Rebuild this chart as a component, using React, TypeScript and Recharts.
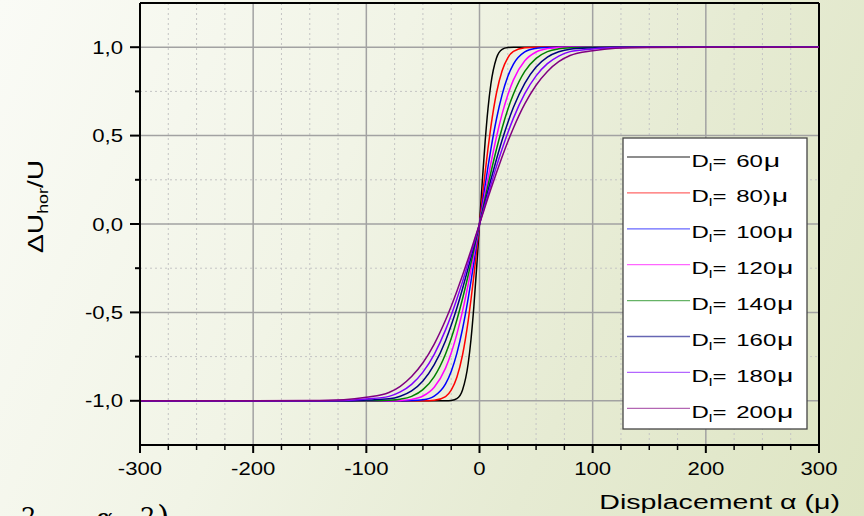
import React from 'react';
import { LineChart, Line, XAxis, YAxis, ReferenceLine, Legend } from 'recharts';

const xValues = [-300, -200, -150, -120, -100, -80, -70, -60, -50, -40, -30, -25, -20, -15, -10, -7.5, -5, -2.5, 0, 2.5, 5, 7.5, 10, 15, 20, 25, 30, 40, 50, 60, 70, 80, 100, 120, 150, 200, 300];

const d60 = [-1, -1, -1, -1, -1, -1, -1, -1, -1, -1, -1, -0.998, -0.988, -0.939, -0.789, -0.652, -0.468, -0.245, 0, 0.245, 0.468, 0.652, 0.789, 0.939, 0.988, 0.998, 1, 1, 1, 1, 1, 1, 1, 1, 1, 1, 1];
const d80 = [-1, -1, -1, -1, -1, -1, -1, -1, -1, -0.997, -0.976, -0.94, -0.867, -0.741, -0.548, -0.427, -0.293, -0.149, 0, 0.149, 0.293, 0.427, 0.548, 0.741, 0.867, 0.94, 0.976, 0.997, 1, 1, 1, 1, 1, 1, 1, 1, 1];
const d100 = [-1, -1, -1, -1, -1, -1, -1, -0.999, -0.994, -0.973, -0.904, -0.834, -0.732, -0.594, -0.421, -0.323, -0.218, -0.11, 0, 0.11, 0.218, 0.323, 0.421, 0.594, 0.732, 0.834, 0.904, 0.973, 0.994, 0.999, 1, 1, 1, 1, 1, 1, 1];
const d120 = [-1, -1, -1, -1, -1, -1, -0.998, -0.992, -0.973, -0.923, -0.815, -0.73, -0.623, -0.493, -0.341, -0.26, -0.175, -0.088, 0, 0.088, 0.175, 0.26, 0.341, 0.493, 0.623, 0.73, 0.815, 0.923, 0.973, 0.992, 0.998, 1, 1, 1, 1, 1, 1];
const d140 = [-1, -1, -1, -1, -1, -0.997, -0.991, -0.975, -0.937, -0.863, -0.735, -0.648, -0.543, -0.423, -0.29, -0.22, -0.148, -0.074, 0, 0.074, 0.148, 0.22, 0.29, 0.423, 0.543, 0.648, 0.735, 0.863, 0.937, 0.975, 0.991, 0.997, 1, 1, 1, 1, 1];
const d160 = [-1, -1, -1, -1, -0.996, -0.989, -0.974, -0.944, -0.888, -0.796, -0.66, -0.573, -0.475, -0.366, -0.249, -0.188, -0.126, -0.063, 0, 0.063, 0.126, 0.188, 0.249, 0.366, 0.475, 0.573, 0.66, 0.796, 0.888, 0.944, 0.974, 0.989, 0.996, 1, 1, 1, 1];
const d180 = [-1, -1, -1, -0.998, -0.99, -0.975, -0.95, -0.907, -0.838, -0.737, -0.599, -0.516, -0.424, -0.326, -0.22, -0.166, -0.111, -0.056, 0, 0.056, 0.111, 0.166, 0.22, 0.326, 0.424, 0.516, 0.599, 0.737, 0.838, 0.907, 0.95, 0.975, 0.99, 0.998, 1, 1, 1];
const d200 = [-1, -1, -0.999, -0.994, -0.98, -0.953, -0.918, -0.863, -0.785, -0.679, -0.543, -0.465, -0.38, -0.29, -0.196, -0.148, -0.099, -0.049, 0, 0.049, 0.099, 0.148, 0.196, 0.29, 0.38, 0.465, 0.543, 0.679, 0.785, 0.863, 0.918, 0.953, 0.98, 0.994, 0.999, 1, 1];

const seriesKeys = ['d60', 'd80', 'd100', 'd120', 'd140', 'd160', 'd180', 'd200'];
const seriesValues = [d60, d80, d100, d120, d140, d160, d180, d200];
const seriesNumbers = ['60', '80)', '100', '120', '140', '160', '180', '200'];
const seriesUnit = 'μ';
const seriesColors = ['#000000', '#ff0000', '#0000ff', '#ff00ff', '#008000', '#000080', '#8000ff', '#800080'];

const xTicks = [-300, -275, -250, -225, -200, -175, -150, -125, -100, -75, -50, -25, 0, 25, 50, 75, 100, 125, 150, 175, 200, 225, 250, 275, 300];
const yTicks = [-1, -0.75, -0.5, -0.25, 0, 0.25, 0.5, 0.75, 1];
const xMajorGrid = [-200, -100, 0, 100, 200];
const xMinorGrid = [-275, -250, -225, -175, -150, -125, -75, -50, -25, 25, 50, 75, 125, 150, 175, 225, 250, 275];
const yMajorGrid = [-1, -0.5, 0, 0.5, 1];
const yMinorGrid = [-0.75, -0.25, 0.25, 0.75];

const data = xValues.map((x, i) => {
  const row: any = { x };
  seriesKeys.forEach((k, j) => { row[k] = seriesValues[j][i]; });
  return row;
});

const FONT = '"Liberation Sans", Arial, sans-serif';

const XTick = (props: any) => {
  const { x, y, payload } = props;
  const v = payload.value;
  const major = Math.abs(v % 100) === 0;
  return (
    <g>
      <line x1={x} x2={x} y1={y} y2={y + (major ? 8 : 5)} stroke="#000" strokeWidth={major ? 2 : 1.5} />
      {major && (
        <text transform={`translate(${x},${y + 30}) scale(1.23,1)`} textAnchor="middle" fontFamily={FONT} fontSize={18} fill="#000">
          {String(v)}
        </text>
      )}
    </g>
  );
};

const YTick = (props: any) => {
  const { x, y, payload } = props;
  const v = payload.value;
  const major = Math.abs((v * 2) % 1) === 0;
  return (
    <g>
      <line x1={x - (major ? 10 : 5)} x2={x} y1={y} y2={y} stroke="#000" strokeWidth={2} />
      {major && (
        <text transform={`translate(${x - 17},${y + 6.5}) scale(1.23,1)`} textAnchor="end" fontFamily={FONT} fontSize={18} fill="#000">
          {v.toFixed(1).replace('.', ',')}
        </text>
      )}
    </g>
  );
};

const XTitle = (props: any) => {
  const vb = props.viewBox || { x: 140, y: 445, width: 679, height: 30 };
  return (
    <g>
      <text transform={`translate(${vb.x + vb.width + 21},${vb.y + 64}) scale(1.36,1)`} textAnchor="end" fontFamily={FONT} fontSize={21} fill="#000">
        Displacement α (μ)
      </text>
      <g fontFamily='"DejaVu Serif", serif' fill="#000">
        <text x={21} y={525} fontSize={24}>2</text>
        <text x={96} y={527} fontSize={26}>α</text>
        <text x={140} y={525} fontSize={24}>2</text>
        <text x={157} y={528} fontSize={32}>)</text>
      </g>
    </g>
  );
};

const YTitle = () => (
  <text transform="translate(43,253) rotate(-90) scale(1.28,1)" textAnchor="start" fontFamily={FONT} fontSize={22} fill="#000">
    ΔU<tspan fontSize={14} dy={5}>hor</tspan><tspan dy={-5}>/U</tspan>
  </text>
);

const LegendBox = () => (
  <svg width={187} height={294} style={{ display: 'block' }}>
    <rect x={1} y={1} width={184} height={291} fill="#ffffff" stroke="#444" strokeWidth={1.3} />
    {seriesNumbers.map((num, i) => {
      const cy = 20 + i * 35.9;
      return (
        <g key={num}>
          <line x1={5} x2={68} y1={cy} y2={cy} stroke={seriesColors[i]} strokeWidth={1.3} strokeOpacity={0.6} />
          <text transform={`translate(69.5,${cy + 9.5}) scale(1.5,1)`} fontFamily={FONT} fontSize={16} fill="#000">
            D<tspan fontSize={11} dy={4}>l</tspan>
            <tspan dy={-4}>=</tspan>
            <tspan dx={6.5}>{num}</tspan>
            <tspan dx={0.5} fontSize={19}>{seriesUnit}</tspan>
          </text>
        </g>
      );
    })}
  </svg>
);

export default function App() {
  return (
    <div
      style={{
        position: 'absolute',
        left: 0,
        top: 0,
        width: 864,
        height: 516,
        overflow: 'hidden',
        background: 'linear-gradient(115deg, #fafbf6 0%, #f1f4e6 38%, #e6ebd3 68%, #dee5c3 100%)',
      }}
    >
      <LineChart width={864} height={516} data={data} margin={{ top: 3, right: 45, bottom: 41, left: 40 }}>
        {xMinorGrid.map((v) => (
          <ReferenceLine key={'xm' + v} x={v} stroke="#c4c4c4" strokeDasharray="2 3" strokeWidth={1} />
        ))}
        {yMinorGrid.map((v) => (
          <ReferenceLine key={'ym' + v} y={v} stroke="#c4c4c4" strokeDasharray="2 3" strokeWidth={1} />
        ))}
        {xMajorGrid.map((v) => (
          <ReferenceLine key={'xM' + v} x={v} stroke="#a2a2a2" strokeWidth={1.5} />
        ))}
        {yMajorGrid.map((v) => (
          <ReferenceLine key={'yM' + v} y={v} stroke="#a2a2a2" strokeWidth={1.5} />
        ))}
        <ReferenceLine y={1.25} stroke="#000" strokeWidth={2} />
        <ReferenceLine x={300} stroke="#000" strokeWidth={2} />
        <XAxis
          dataKey="x"
          type="number"
          domain={[-300, 300]}
          ticks={xTicks}
          interval={0}
          tickLine={false}
          tickSize={0}
          tickMargin={0}
          axisLine={{ stroke: '#000', strokeWidth: 2 }}
          tick={<XTick />}
          height={30}
          allowDataOverflow
          label={<XTitle />}
        />
        <YAxis
          type="number"
          domain={[-1.25, 1.25]}
          ticks={yTicks}
          interval={0}
          tickLine={false}
          tickSize={0}
          tickMargin={0}
          axisLine={{ stroke: '#000', strokeWidth: 2 }}
          tick={<YTick />}
          width={100}
          allowDataOverflow
          label={<YTitle />}
        />
        {seriesKeys.map((k, i) => (
          <Line
            key={k}
            dataKey={k}
            type="monotone"
            stroke={seriesColors[i]}
            strokeWidth={1.5}
            dot={false}
            activeDot={false}
            isAnimationActive={false}
          />
        ))}
        <Legend
          layout="vertical"
          align="center"
          verticalAlign="middle"
          content={<LegendBox />}
          wrapperStyle={{ position: 'absolute', left: 622, top: 137, width: 187, height: 294, margin: 0 }}
        />
      </LineChart>
    </div>
  );
}
